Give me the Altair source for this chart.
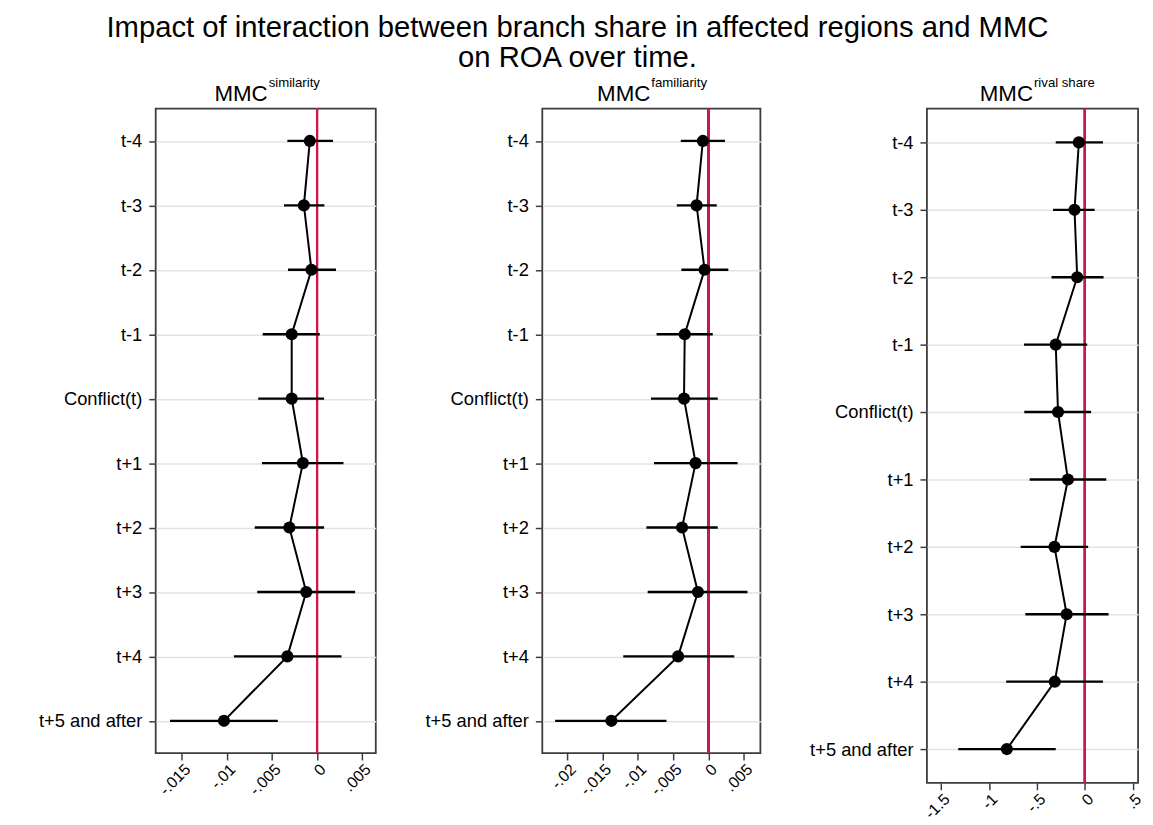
import altair as alt
import pandas as pd

periods = ["t-4", "t-3", "t-2", "t-1", "Conflict(t)", "t+1", "t+2", "t+3", "t+4", "t+5 and after"]

sim_est = [-0.00081, -0.00147, -0.00063, -0.00282, -0.00282, -0.00158, -0.00308, -0.00121, -0.0033, -0.01033]
sim_lo = [-0.0033, -0.00367, -0.00323, -0.00604, -0.00653, -0.00612, -0.00692, -0.00664, -0.00923, -0.01631]
sim_hi = [0.00176, 0.0008, 0.00209, 0.00029, 0.00077, 0.00292, 0.00077, 0.00421, 0.0027, -0.00436]

fam_est = [-0.0008, -0.00169, -0.00056, -0.00337, -0.00347, -0.00183, -0.00375, -0.0015, -0.00431, -0.01376]
fam_lo = [-0.00393, -0.00449, -0.00385, -0.00736, -0.00815, -0.00772, -0.00881, -0.00862, -0.01208, -0.02173]
fam_hi = [0.00233, 0.00117, 0.00281, 0.0006, 0.00131, 0.00412, 0.00131, 0.00552, 0.00365, -0.00596]

riv_est = [-0.062, -0.107, -0.079, -0.303, -0.279, -0.176, -0.316, -0.189, -0.313, -0.813]
riv_lo = [-0.303, -0.331, -0.347, -0.634, -0.631, -0.575, -0.668, -0.62, -0.82, -1.32]
riv_hi = [0.19, 0.103, 0.196, 0.025, 0.066, 0.224, 0.035, 0.248, 0.19, -0.303]

sim_ticks = [-0.015, -0.01, -0.005, 0, 0.005]
fam_ticks = [-0.02, -0.015, -0.01, -0.005, 0, 0.005]
riv_ticks = [-1.5, -1, -0.5, 0, 0.5]

title_lines = ["Impact of interaction between branch share in affected regions and MMC", "on ROA over time."]

FONT = "Liberation Sans"
FRAME = "#3c3c3c"
LABEL_EXPR = "datum.value == 0 ? '0' : replace(toString(datum.value), '0.', '.')"


def panel(sup, est, lo, hi, domain, ticks, width, height, split):
    df = pd.DataFrame({"period": periods, "idx": list(range(len(periods))),
                       "est": est, "lo": lo, "hi": hi})
    ysc = alt.Y("period:N", sort=periods, title=None,
                scale=alt.Scale(type="point", padding=0.5),
                axis=alt.Axis(grid=True, gridColor="#e2e2e2", gridWidth=1.5,
                              domain=False, tickSize=7, tickColor=FRAME, tickWidth=1.5,
                              labelFontSize=18.5, labelFont=FONT, labelColor="black",
                              labelPadding=7, minExtent=146, maxExtent=146))
    xsc = alt.X("est:Q", title=None,
                scale=alt.Scale(domain=domain, nice=False, zero=False),
                axis=alt.Axis(values=ticks, labelExpr=LABEL_EXPR, grid=False, domain=False,
                              tickSize=7, tickColor=FRAME, tickWidth=1.5, labelOverlap=False,
                              labelAngle=-45, labelFontSize=16, labelFont=FONT,
                              labelColor="black", labelPadding=1))
    base = alt.Chart(df)
    zero = base.mark_rule(color="#c8184a", strokeWidth=1.8).encode(x=alt.datum(0))
    ci = base.mark_rule(color="black", strokeWidth=2.4).encode(x=alt.X("lo:Q"), x2="hi:Q", y=ysc)
    line = base.mark_line(color="black", strokeWidth=2).encode(x=xsc, y=ysc, order="idx:Q")
    pts = base.mark_circle(color="black", size=150, opacity=1).encode(x=xsc, y=ysc)
    lab = pd.DataFrame({"main": ["MMC"], "sup": [sup]})
    t_main = alt.Chart(lab).mark_text(align="right", baseline="alphabetic", fontSize=22.5,
                                      font=FONT, color="black").encode(
        x=alt.value(split), y=alt.value(-8), text="main:N")
    t_sup = alt.Chart(lab).mark_text(align="left", baseline="alphabetic", fontSize=13.3,
                                     font=FONT, color="black").encode(
        x=alt.value(split + 1), y=alt.value(-22), text="sup:N")
    return alt.layer(zero, ci, line, pts, t_main, t_sup).properties(width=width, height=height)


p1 = panel("similarity", sim_est, sim_lo, sim_hi, [-0.0179, 0.0065], sim_ticks, 222, 650, 113)
p2 = panel("familiarity", fam_est, fam_lo, fam_hi, [-0.02355, 0.00735], fam_ticks, 220, 650, 109)
p3 = panel("rival share", riv_est, riv_lo, riv_hi, [-1.647, 0.556], riv_ticks, 213, 680, 107)

chart = alt.hconcat(p1, p2, p3, spacing=20).properties(
    title=alt.TitleParams(title_lines, fontSize=29.5, font=FONT, fontWeight="normal",
                          anchor="middle", lineHeight=29.5, color="black", offset=2),
    padding={"left": 2, "top": 2, "right": 0, "bottom": 0},
    background="white",
).configure_view(stroke=FRAME, strokeWidth=1.8)

chart.save("out.html", embed_options={"renderer": "svg", "actions": False})
